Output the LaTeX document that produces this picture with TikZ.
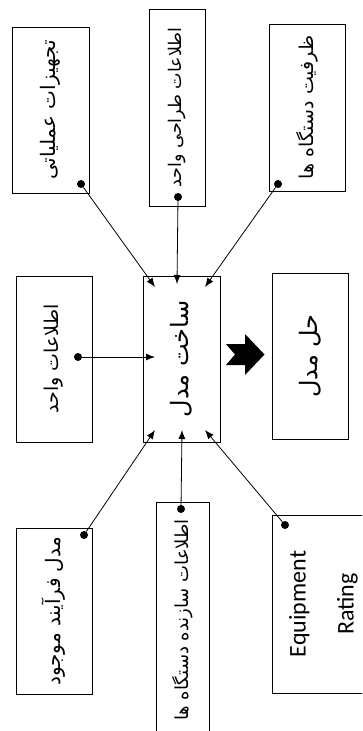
\documentclass[tikz,border=0pt]{standalone}
\usepackage{fontspec}
\setmainfont{Carlito}
\newfontfamily\fa[Script=Arabic]{DejaVu Sans}
\TeXXeTstate=1
\usepackage{graphicx}
\usetikzlibrary{arrows.meta}
\tikzset{
  inbox/.style={rectangle,draw=black,fill=white,line width=0.9pt,
    inner sep=0pt,align=center},
  srcdot/.style={circle,fill=black,inner sep=0pt,minimum size=8pt},
  feed/.style={-{Latex[length=9pt,width=7pt]},line width=0.8pt},
}
\newcommand{\fatext}[2][19]{\rotatebox{90}{\fontsize{#1}{24}\fa\beginR #2\endR}}

\begin{document}
\begin{tikzpicture}[x=1pt,y=-1pt]
\useasboundingbox (0,0) rectangle (362,731);
\clip (0,0) rectangle (362,731);

\node[inbox,minimum width=77pt,minimum height=166pt] (equip)  at (50.5,110) {\fatext[20]{تجهیزات عملیاتی}};
\node[inbox,minimum width=56pt,minimum height=197pt] (design) at (177,107.5) {\fatext[17.5]{اطلاعات طراحی واحد}};
\node[inbox,minimum width=76pt,minimum height=167pt] (capac)  at (307,107.5) {\fatext{ظرفیت دستگاه ها}};
\node[inbox,minimum width=76pt,minimum height=166pt] (unit)   at (54,359) {\fatext{اطلاعات واحد}};
\node[inbox,minimum width=77pt,minimum height=166pt] (model)  at (181.5,359) {\fatext[24]{ساخت مدل}};
\node[inbox,minimum width=76pt,minimum height=166pt] (solve)  at (310,356) {\fatext[24]{حل مدل}};
\node[inbox,minimum width=76pt,minimum height=166pt] (proc)   at (54,611) {\fatext[20]{مدل فرآیند موجود}};
\node[inbox,minimum width=53pt,minimum height=236pt] (maker)  at (182.5,620) {\fatext[18]{اطلاعات سازنده دستگاه ها}};
\node[inbox,minimum width=92pt,minimum height=178pt] (rating) at (320,604)
  {\rotatebox{90}{\fontsize{24}{48}\selectfont\begin{tabular}{c}Equipment\\Rating\end{tabular}}};

\node[srcdot] (dEquip)  at (81,184) {};
\node[srcdot] (dDesign) at (178,197) {};
\node[srcdot] (dCapac)  at (278,184) {};
\node[srcdot] (dUnit)   at (78,357) {};
\node[srcdot] (dProc)   at (84,535) {};
\node[srcdot] (dMaker)  at (181,509) {};
\node[srcdot] (dRating) at (285,525) {};

\coordinate (inEquip)  at (155,287);
\coordinate (inDesign) at (177,284);
\coordinate (inCapac)  at (205,287);
\coordinate (inUnit)   at (155,357);
\coordinate (inProc)   at (155,430);
\coordinate (inMaker)  at (182,430);
\coordinate (inRating) at (205,430);

\draw[feed] (dEquip) -- (inEquip);
\draw[feed] (dDesign) -- (inDesign);
\draw[feed] (dCapac) -- (inCapac);
\draw[feed] (dUnit) -- (inUnit);
\draw[feed] (dProc) -- (inProc);
\draw[feed] (dMaker) -- (inMaker);
\draw[feed] (dRating) -- (inRating);

\fill[black] (226,344) -- (245,344) -- (245,334) -- (264.5,354.5) -- (245,375)
  -- (245,365) -- (226,365) -- (235,354.5) -- cycle;

\end{tikzpicture}
\end{document}
